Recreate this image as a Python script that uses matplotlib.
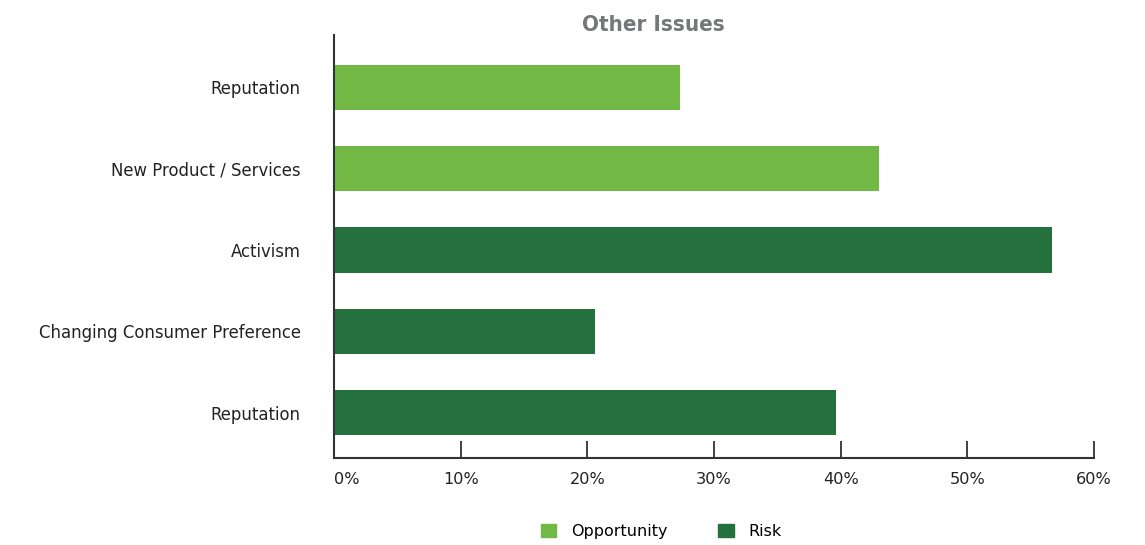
import matplotlib.pyplot as plt
from matplotlib.patches import Patch

# bottom to top
issues = ['Reputation', 'Changing Consumer Preference', 'Activism',
          'New Product / Services', 'Reputation']
kinds = ['Risk', 'Risk', 'Risk', 'Opportunity', 'Opportunity']
share = [39.6, 20.6, 56.7, 43.0, 27.3]

colours = {'Opportunity': '#71b944', 'Risk': '#25713d'}

plt.rcParams['font.family'] = ['DejaVu Sans']

fig = plt.figure(figsize=(11.45, 5.45), dpi=100)
ax = fig.add_axes([0.2917, 0.1596, 0.6638, 0.7762])

pos = list(range(len(issues)))
ax.barh(pos, share, height=0.554, color=[colours[k] for k in kinds])

ax.set_xlim(0, 60)
ax.set_ylim(-0.56, 4.646)
ax.set_yticks(pos)
ax.set_yticklabels(issues, fontsize=11.9, color='#222222')
ax.set_xticks(range(0, 61, 10))
ax.set_xticklabels([f'{v}%' for v in range(0, 61, 10)], fontsize=11.6, color='#222222')
ax.get_xticklabels()[0].set_horizontalalignment('left')

for s in ['top', 'right']:
    ax.spines[s].set_visible(False)
for s in ['left', 'bottom']:
    ax.spines[s].set_color('#333333')
    ax.spines[s].set_linewidth(1.5)

ax.tick_params(axis='y', length=0, pad=24)
ax.tick_params(axis='x', direction='in', length=12, width=1.3, color='#333333', pad=10)
ax.xaxis.get_major_ticks()[0].tick1line.set_visible(False)

fig.text(0.5707, 0.955, 'Other Issues', ha='center', va='center',
         fontsize=16, fontweight='bold', color='#75787b', stretch='condensed')

handles = [Patch(color=colours['Opportunity'], label='Opportunity'),
           Patch(color=colours['Risk'], label='Risk')]
fig.legend(handles=handles, loc='center', bbox_to_anchor=(0.5775, 0.025), ncol=2,
           frameon=False, fontsize=11.5, handlelength=0.95, handleheight=0.95,
           columnspacing=3.2, handletextpad=0.9)

fig.savefig('out.png', dpi=100)
